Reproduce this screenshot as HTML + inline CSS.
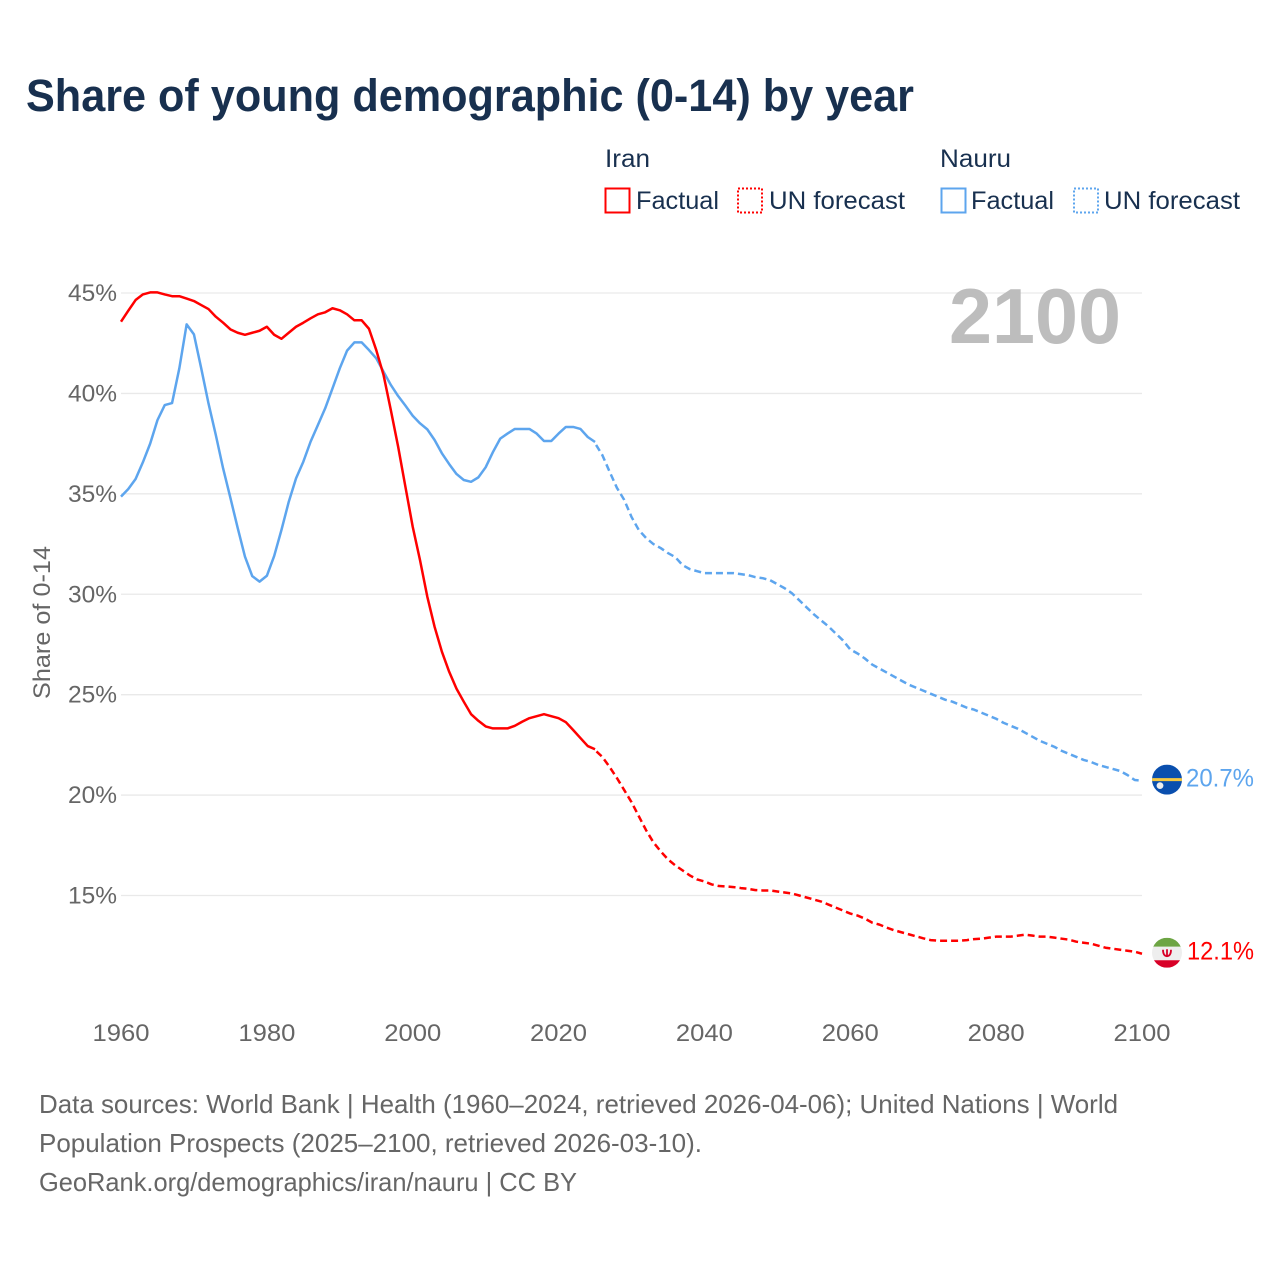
<!DOCTYPE html>
<html lang="en">
<head>
<meta charset="utf-8">
<title>Share of young demographic (0-14) by year</title>
<style>
html,body{margin:0;padding:0;background:#fff;}
svg{display:block;}
text{font-family:"Liberation Sans",sans-serif;}
</style>
</head>
<body>
<svg id="chart" xmlns="http://www.w3.org/2000/svg" width="1280" height="1280" viewBox="0 0 1280 1280">
  <rect width="1280" height="1280" fill="#fff"/>
  <text x="26" y="111" font-size="45" font-weight="700" fill="#18304f" textLength="888" lengthAdjust="spacingAndGlyphs">Share of young demographic (0-14) by year</text>

  <g font-size="25" fill="#18304f">
    <text x="605" y="167" textLength="45" lengthAdjust="spacingAndGlyphs">Iran</text>
    <rect x="605.5" y="188.5" width="24" height="24" fill="none" stroke="#ff0000" stroke-width="2"/>
    <text x="636" y="209" textLength="83" lengthAdjust="spacingAndGlyphs">Factual</text>
    <rect x="738" y="188.5" width="24" height="24" fill="none" stroke="#ff0000" stroke-width="2" stroke-dasharray="2 2"/>
    <text x="769" y="209" textLength="136" lengthAdjust="spacingAndGlyphs">UN forecast</text>
    <text x="940" y="167" textLength="71" lengthAdjust="spacingAndGlyphs">Nauru</text>
    <rect x="941.5" y="188.5" width="24" height="24" fill="none" stroke="#5da5ee" stroke-width="2"/>
    <text x="971" y="209" textLength="83" lengthAdjust="spacingAndGlyphs">Factual</text>
    <rect x="1074" y="188.5" width="24" height="24" fill="none" stroke="#5da5ee" stroke-width="2" stroke-dasharray="2 2"/>
    <text x="1104" y="209" textLength="136" lengthAdjust="spacingAndGlyphs">UN forecast</text>
  </g>

  <g id="grid"></g>
  <text x="949" y="343" font-size="78" font-weight="700" fill="#bdbdbd" textLength="172" lengthAdjust="spacingAndGlyphs">2100</text>
  <g id="ylabels" font-size="24" fill="#666"></g>
  <g id="xlabels" font-size="24" fill="#666"></g>
  <text transform="translate(50,699) rotate(-90)" font-size="24" fill="#666" textLength="153" lengthAdjust="spacingAndGlyphs">Share of 0-14</text>
  <g id="series" fill="none" stroke-width="2.5" stroke-linejoin="round"></g>

  <defs>
    <clipPath id="flagClip"><circle cx="0" cy="0" r="15"/></clipPath>
  </defs>
  <g id="flagNauru">
    <g clip-path="url(#flagClip)">
      <rect x="-15" y="-15" width="30" height="30" fill="#0a4fae"/>
      <rect x="-15" y="-1.5" width="30" height="3" fill="#f5c842"/>
      <circle cx="-7" cy="6" r="3.4" fill="#eeeeee"/>
    </g>
  </g>
  <g id="flagIran">
    <g clip-path="url(#flagClip)">
      <rect x="-15" y="-15" width="30" height="9" fill="#6da544"/>
      <rect x="-15" y="-6" width="30" height="13.5" fill="#eeeeee"/>
      <rect x="-15" y="7.5" width="30" height="7.5" fill="#d80027"/>
      <path d="M-4-3 Q-4 3 0 3.5 Q4 3 4-3 M0-3.5V3.5" fill="none" stroke="#d80027" stroke-width="1.8"/>
    </g>
  </g>
  <text id="labelNauru" x="1186" font-size="25" fill="#5da5ee" textLength="68" lengthAdjust="spacingAndGlyphs"></text>
  <text id="labelIran" x="1187" font-size="25" fill="#ff0000" textLength="67" lengthAdjust="spacingAndGlyphs"></text>

  <g font-size="26" fill="#666">
    <text x="39" y="1113" textLength="1079" lengthAdjust="spacingAndGlyphs">Data sources: World Bank | Health (1960–2024, retrieved 2026-04-06); United Nations | World</text>
    <text x="39" y="1152" textLength="663" lengthAdjust="spacingAndGlyphs">Population Prospects (2025–2100, retrieved 2026-03-10).</text>
    <text x="39" y="1191" textLength="538" lengthAdjust="spacingAndGlyphs">GeoRank.org/demographics/iran/nauru | CC BY</text>
  </g>
</svg>
<script>
const factualStartYear = 1960;
const forecastStartYear = 2025;
const yTicks = [15, 20, 25, 30, 35, 40, 45];
const xTicks = [1960, 1980, 2000, 2020, 2040, 2060, 2080, 2100];
const iranFactual = [43.57,44.12,44.65,44.93,45.03,45.03,44.93,44.84,44.84,44.72,44.6,44.4,44.2,43.82,43.52,43.19,43.02,42.92,43.02,43.12,43.32,42.92,42.72,43.02,43.32,43.52,43.74,43.94,44.04,44.24,44.14,43.94,43.64,43.64,43.22,42.16,40.92,39.17,37.35,35.35,33.36,31.7,29.88,28.38,27.14,26.14,25.3,24.65,24.03,23.7,23.42,23.32,23.32,23.32,23.45,23.65,23.83,23.93,24.03,23.93,23.83,23.63,23.24,22.84,22.44,22.28];
const iranForecast = [22.24,21.9,21.4,20.85,20.25,19.65,18.95,18.25,17.65,17.2,16.8,16.5,16.25,16.0,15.8,15.7,15.55,15.47,15.45,15.42,15.37,15.33,15.27,15.25,15.25,15.2,15.15,15.1,15.0,14.9,14.8,14.7,14.55,14.4,14.25,14.1,14.0,13.85,13.65,13.55,13.4,13.27,13.17,13.07,12.97,12.87,12.78,12.75,12.75,12.75,12.75,12.78,12.83,12.85,12.9,12.95,12.95,12.95,13.0,13.05,13.0,12.95,12.95,12.9,12.85,12.8,12.7,12.65,12.6,12.5,12.4,12.35,12.3,12.25,12.2,12.1];
const nauruFactual = [34.86,35.24,35.74,36.57,37.5,38.67,39.42,39.52,41.25,43.44,42.94,41.25,39.5,37.93,36.27,34.8,33.3,31.87,30.9,30.63,30.92,31.9,33.2,34.6,35.77,36.6,37.6,38.43,39.26,40.25,41.25,42.13,42.54,42.54,42.16,41.75,41.08,40.42,39.87,39.39,38.89,38.51,38.21,37.68,37.02,36.48,35.99,35.69,35.6,35.82,36.32,37.08,37.75,38.0,38.23,38.23,38.23,38.0,37.63,37.63,38.0,38.33,38.33,38.23,37.83,37.58];
const nauruForecast = [37.52,36.93,36.1,35.3,34.7,33.85,33.2,32.8,32.5,32.3,32.05,31.85,31.45,31.25,31.15,31.05,31.05,31.05,31.05,31.05,31.0,30.95,30.85,30.8,30.7,30.5,30.3,30.05,29.7,29.35,29.0,28.7,28.4,28.05,27.7,27.25,27.05,26.8,26.5,26.3,26.1,25.9,25.7,25.5,25.35,25.2,25.05,24.9,24.75,24.65,24.5,24.35,24.25,24.1,23.95,23.8,23.6,23.45,23.3,23.1,22.9,22.7,22.55,22.4,22.2,22.05,21.9,21.75,21.65,21.5,21.4,21.3,21.2,21.0,20.75,20.72];

const NS = 'http://www.w3.org/2000/svg';
const xScale = function (year) { return 121 + (year - 1960) * (1142 - 121) / 140; };
const yScale = function (v) { return 293 + (45 - v) * (895.5 - 293) / 30; };

const grid = document.getElementById('grid');
const ylabels = document.getElementById('ylabels');
const xlabels = document.getElementById('xlabels');
const seriesG = document.getElementById('series');

yTicks.forEach(function (t) {
  const line = document.createElementNS(NS, 'line');
  
  
  line.setAttribute('x1', 121);
  line.setAttribute('x2', 1142);
  line.setAttribute('y1', yScale(t));
  line.setAttribute('y2', yScale(t));
  line.setAttribute('stroke', '#e9e9e9');
  line.setAttribute('stroke-width', '1.3');
  grid.appendChild(line);
  const label = document.createElementNS(NS, 'text');
  
  
  label.setAttribute('x', 68);
  label.setAttribute('y', yScale(t) + 8);
  label.setAttribute('textLength', 49);
  label.setAttribute('lengthAdjust', 'spacingAndGlyphs');
  label.textContent = t + '%';
  ylabels.appendChild(label);
});

xTicks.forEach(function (t) {
  const label = document.createElementNS(NS, 'text');
  
  
  label.setAttribute('x', xScale(t) - 28.5);
  label.setAttribute('y', 1041);
  label.setAttribute('textLength', 57);
  label.setAttribute('lengthAdjust', 'spacingAndGlyphs');
  label.textContent = String(t);
  xlabels.appendChild(label);
});

function linePath(values, startYear) {
  return values.map(function (v, i) {
    return (i ? 'L' : 'M') + xScale(startYear + i).toFixed(2) + ' ' + yScale(v).toFixed(2);
  }).join('');
}

function addSeries(name, values, startYear, color, dash) {
  const p = document.createElementNS(NS, 'path');
  
  
  p.setAttribute('d', linePath(values, startYear));
  p.setAttribute('stroke', color);
  if (dash) {
    p.setAttribute('stroke-dasharray', '7 4');
    p.setAttribute('stroke-dashoffset', '9');
  }
  seriesG.appendChild(p);
}

addSeries('nauru-factual-line', nauruFactual, factualStartYear, '#5da5ee', false);
addSeries('nauru-forecast-line', nauruForecast, forecastStartYear, '#5da5ee', true);
addSeries('iran-factual-line', iranFactual, factualStartYear, '#ff0000', false);
addSeries('iran-forecast-line', iranForecast, forecastStartYear, '#ff0000', true);

const nauruEnd = nauruForecast[nauruForecast.length - 1];
const iranEnd = iranForecast[iranForecast.length - 1];
const markerX = xScale(2100) + 25;
document.getElementById('flagNauru').setAttribute('transform', 'translate(' + markerX + ',' + (yScale(nauruEnd) - 1) + ')');
document.getElementById('flagIran').setAttribute('transform', 'translate(' + markerX + ',' + (yScale(iranEnd) - 1) + ')');
const labelNauru = document.getElementById('labelNauru');
labelNauru.setAttribute('y', yScale(nauruEnd) + 6);
labelNauru.textContent = nauruEnd.toFixed(1) + '%';
const labelIran = document.getElementById('labelIran');
labelIran.setAttribute('y', yScale(iranEnd) + 6);
labelIran.textContent = iranEnd.toFixed(1) + '%';
</script>
</body>
</html>
